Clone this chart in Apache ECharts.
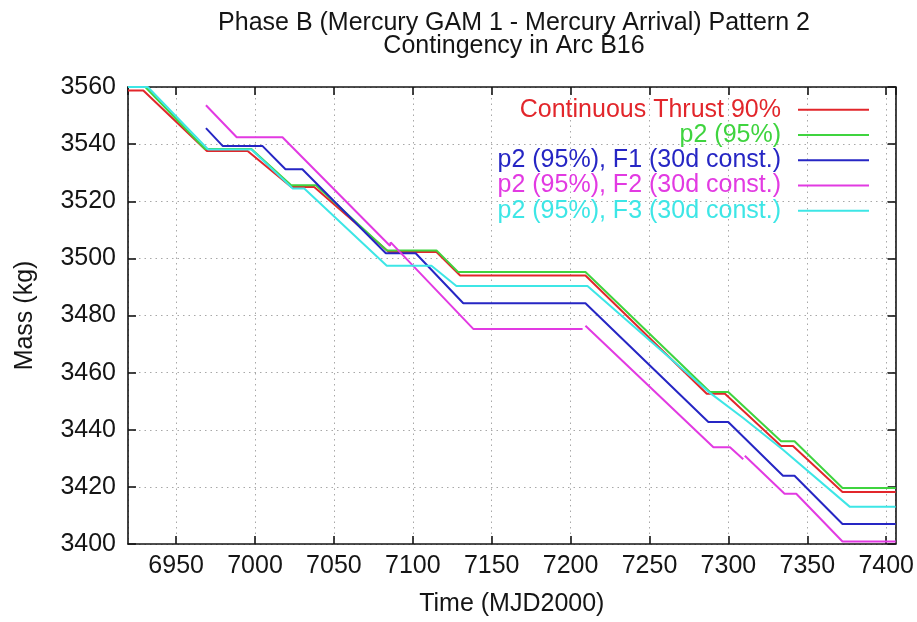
<!DOCTYPE html>
<html>
<head>
<meta charset="utf-8">
<title>Phase B Pattern 2 - Contingency in Arc B16</title>
<script src="https://cdn.jsdelivr.net/npm/echarts@6/dist/echarts.min.js"></script>
<style>
  html, body { margin: 0; padding: 0; background: #fff; }
  #chart { width: 917px; height: 622px; }
</style>
</head>
<body>
<div id="chart"></div>
<script>
// [time (MJD2000), mass (kg)], null = break in the line
const continuousThrust90 = [
  [6919.5, 3558.8], [6929.2, 3558.8], [6969.5, 3537.6], [6995.3, 3537.6],
  [7023.0, 3525.0], [7037.5, 3525.0], [7084.8, 3502.2], [7115.0, 3502.2],
  [7130.0, 3494.0], [7209.4, 3494.0], [7286.3, 3452.6], [7297.8, 3452.6],
  [7333.4, 3434.3], [7340.9, 3434.3], [7372.3, 3418.2], [7406.0, 3418.2]
]
const p2 = [
  [6919.5, 3560.0], [6930.5, 3560.0], [6968.3, 3538.3], [6997.7, 3538.3],
  [7022.9, 3525.6], [7038.6, 3525.6], [7083.5, 3502.8], [7115.0, 3502.8],
  [7128.8, 3495.2], [7209.4, 3495.2], [7288.3, 3453.2], [7299.9, 3453.2],
  [7333.4, 3436.0], [7341.9, 3436.0], [7372.3, 3419.6], [7406.0, 3419.6]
]
const p2F1 = [
  [6968.9, 3545.6], [6979.6, 3539.3], [7004.8, 3539.3], [7019.3, 3531.2],
  [7030.0, 3531.2], [7082.9, 3501.8], [7101.8, 3501.8], [7132.0, 3484.3],
  [7209.4, 3484.3], [7287.3, 3442.7], [7299.9, 3442.7], [7334.6, 3423.9],
  [7341.9, 3423.9], [7372.3, 3407.0], [7406.0, 3407.0]
]
const p2F2 = [
  [6968.9, 3553.6], [6988.4, 3542.4], [7017.4, 3542.4], [7085.5, 3504.4],
  [7086.0, 3505.6], [7138.3, 3475.3], [7207.6, 3475.3], [7208.5, null],
  [7209.4, 3476.4], [7290.5, 3433.9], [7301.0, 3433.9], [7309.4, 3429.7],
  [7309.9, null], [7310.4, 3430.9], [7335.6, 3417.6], [7343.0, 3417.6],
  [7372.3, 3400.9], [7406.0, 3400.9]
]
const p2F3 = [
  [6919.5, 3560.0], [6932.0, 3560.0], [6970.3, 3538.1], [6997.7, 3538.1],
  [7023.9, 3524.5], [7031.2, 3524.5], [7083.5, 3497.4], [7111.8, 3497.4],
  [7127.6, 3490.3], [7210.7, 3490.3], [7288.3, 3452.9], [7309.4, 3444.1],
  [7334.6, 3433.0], [7377.0, 3413.0], [7406.0, 3413.0]
]

const seriesNames = [
  'Continuous Thrust 90%',
  'p2 (95%)',
  'p2 (95%), F1 (30d const.)',
  'p2 (95%), F2 (30d const.)',
  'p2 (95%), F3 (30d const.)'
]
const seriesData = [continuousThrust90, p2, p2F1, p2F2, p2F3]
const colors = ['#e2262b', '#3fd43f', '#2626c4', '#e23ae2', '#3de6e6']

const xRange = [6919.5, 7406]
const xStep = 50
const yRange = [3400, 3560]
const yStep = 20

const FONT = 'Liberation Sans, Arial, Helvetica, sans-serif'
const ink = '#151515'

const chart = echarts.init(document.getElementById('chart'))

const frameLine = { onZero: false, lineStyle: { color: ink, width: 1.6 } }
const innerTick = { inside: true, length: 8, lineStyle: { color: ink, width: 1.6 } }
const dotted = { show: true, lineStyle: { color: '#a8a8a8', width: 1, type: [1.5, 4] } }
const plain = v => String(v)

const option = {
  backgroundColor: '#fff',
  animation: false,
  graphic: [
    {
      type: 'text',
      x: 514,
      y: 12,
      style: {
        text: 'Phase B (Mercury GAM 1 - Mercury Arrival) Pattern 2\nContingency in Arc B16',
        align: 'center',
        verticalAlign: 'top',
        fontSize: 25,
        fontFamily: FONT,
        lineHeight: 23,
        fill: ink,
      },
    },
  ],
  grid: { left: 128, right: 17, top: 87, bottom: 78 },
  legend: {
    orient: 'vertical',
    right: 48,
    top: 97,
    align: 'right',
    icon: 'rect',
    itemWidth: 71,
    itemHeight: 2,
    itemGap: 0,
    padding: 0,
    selectedMode: false,
    textStyle: { fontSize: 25, fontFamily: FONT, lineHeight: 25.3, padding: [0, 12, 0, 0] },
    data: seriesNames.map((n, i) => ({ name: n, textStyle: { color: colors[i] } })),
  },
  xAxis: [
    {
      type: 'value',
      position: 'bottom',
      min: xRange[0],
      max: xRange[1],
      minInterval: xStep,
      maxInterval: xStep,
      axisLine: frameLine,
      axisTick: innerTick,
      splitLine: dotted,
      axisLabel: { showMinLabel: false, showMaxLabel: false, formatter: plain, fontSize: 25, fontFamily: FONT, color: ink, margin: 10 },
      name: 'Time (MJD2000)',
      nameLocation: 'middle',
      nameGap: 48,
      nameTextStyle: { fontSize: 25, fontFamily: FONT, color: ink },
    },
    {
      type: 'value',
      position: 'top',
      min: xRange[0],
      max: xRange[1],
      minInterval: xStep,
      maxInterval: xStep,
      axisLine: frameLine,
      axisTick: innerTick,
      splitLine: { show: false },
      axisLabel: { show: false },
    },
  ],
  yAxis: [
    {
      type: 'value',
      position: 'left',
      min: yRange[0],
      max: yRange[1],
      interval: yStep,
      axisLine: frameLine,
      axisTick: innerTick,
      splitLine: dotted,
      axisLabel: { formatter: plain, fontSize: 25, fontFamily: FONT, color: ink, margin: 12 },
      name: 'Mass (kg)',
      nameLocation: 'middle',
      nameGap: 90,
      nameTextStyle: { fontSize: 25, fontFamily: FONT, color: ink },
    },
    {
      type: 'value',
      position: 'right',
      min: yRange[0],
      max: yRange[1],
      interval: yStep,
      axisLine: frameLine,
      axisTick: innerTick,
      splitLine: { show: false },
      axisLabel: { show: false },
    },
  ],
  series: seriesData.map((d, i) => ({
    name: seriesNames[i],
    type: 'line',
    data: d,
    xAxisIndex: 0,
    yAxisIndex: 0,
    symbol: 'none',
    connectNulls: false,
    color: colors[i],
    lineStyle: { color: colors[i], width: 2 },
  })),
}

chart.setOption(option)
</script>
</body>
</html>
